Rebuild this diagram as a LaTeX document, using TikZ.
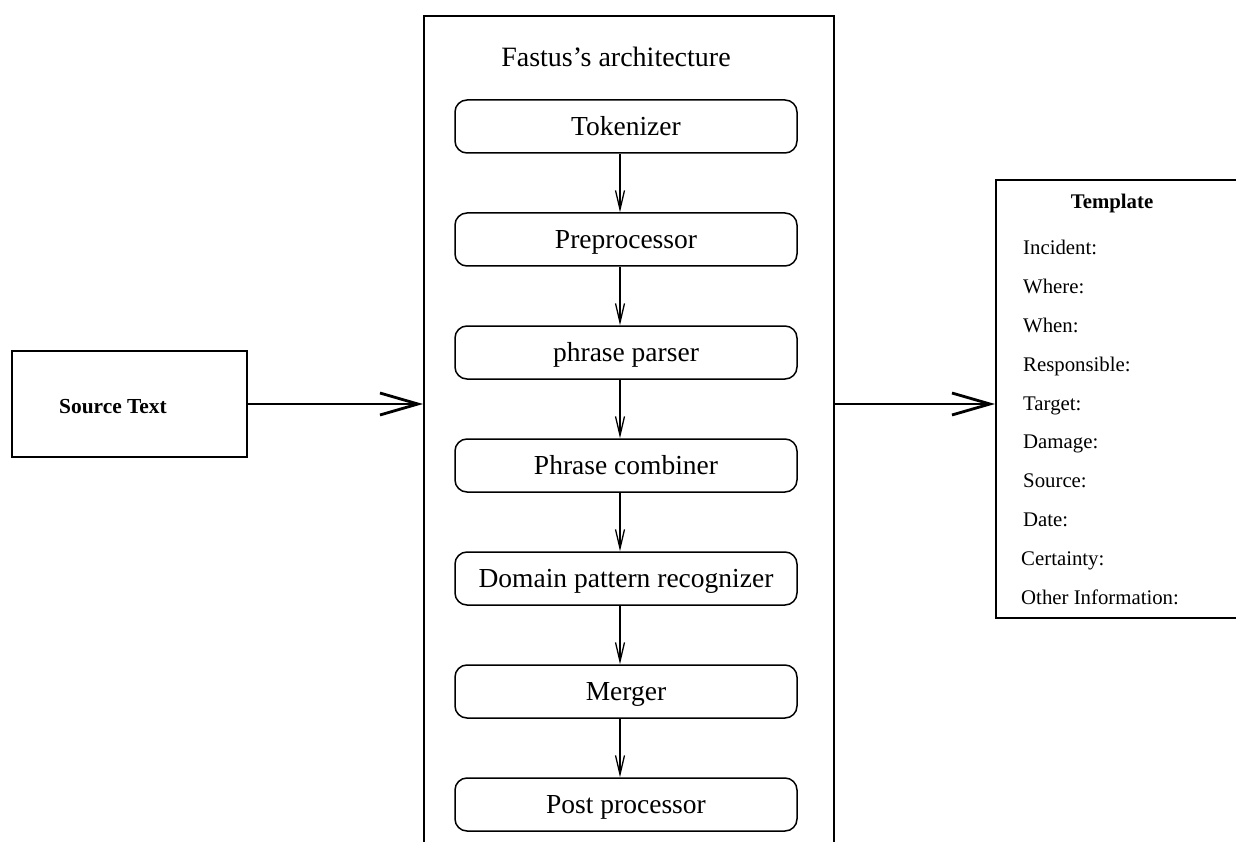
\documentclass[tikz,border=0pt]{standalone}
\usepackage{fontspec}
\setmainfont{Liberation Serif}
\usetikzlibrary{arrows.meta}

\tikzset{
  frame/.style={draw, line width=1.6pt, inner sep=0pt},
  stage/.style={draw, line width=1.5pt, rounded corners=12pt,
    minimum width=342pt, minimum height=53pt, inner sep=0pt,
    font=\fontsize{27.5}{30}\selectfont, text height=18.2pt, text depth=0pt},
  flow/.style={line width=1.3pt, -{Straight Barb[length=19pt,width=9pt]}},
  bigflow/.style={line width=2.8pt, -{Straight Barb[length=38pt,width=22pt]}},
  field/.style={anchor=west, inner sep=0pt,
    font=\fontsize{20.8}{23}\selectfont, text height=13.8pt, text depth=0pt},
  heading/.style={inner sep=0pt, font=\bfseries\fontsize{20.8}{23}\selectfont,
    text height=13.8pt, text depth=0pt},
}

\begin{document}
\begin{tikzpicture}[x=1pt,y=-1pt]
\useasboundingbox (0,0) rectangle (1236,842);
\clip (0,0) rectangle (1236,842);

% input document
\node[draw, line width=2pt, minimum width=235pt, minimum height=106pt, inner sep=0pt]
  (src) at (129.5,404) {};
\node[heading, font=\bfseries\fontsize{21.4}{24}\selectfont, text height=14.2pt]
  (srclabel) at (113,406) {Source Text};

% the system frame, running past the lower edge
\node[frame, anchor=north west, minimum width=410pt, minimum height=880pt] (arch) at (423,15) {};
\node[font=\fontsize{28}{30}\selectfont, anchor=base, inner sep=0pt] (title) at (616,67)
  {Fastus’s architecture};

% processing stages
\node[stage] (tok)   at (626,126.5) {Tokenizer};
\node[stage] (pre)   at (626,239.5) {Preprocessor};
\node[stage] (pp)    at (626,352.5) {phrase parser};
\node[stage] (pc)    at (626,465.5) {Phrase combiner};
\node[stage] (dom)   at (626,578.5) {Domain pattern recognizer};
\node[stage] (mrg)   at (626,691.5) {Merger};
\node[stage] (post)  at (626,804.5) {Post processor};

\coordinate (ax) at (620,0);
\draw[flow] (tok.south -| ax) -- (pre.north -| ax);
\draw[flow] (pre.south -| ax) -- (pp.north -| ax);
\draw[flow] (pp.south -| ax)  -- (pc.north -| ax);
\draw[flow] (pc.south -| ax)  -- (dom.north -| ax);
\draw[flow] (dom.south -| ax) -- (mrg.north -| ax);
\draw[flow] (mrg.south -| ax) -- (post.north -| ax);

% output template, running past the right edge
\node[frame, anchor=north west, minimum width=300pt, minimum height=438pt] (tpl) at (995,179) {};
\node[heading] (tplhead) at (1112,202) {Template};
\node[field] (f1)  at (1023,248.0) {Incident:};
\node[field] (f2)  at (1023,286.8) {Where:};
\node[field] (f3)  at (1023,325.6) {When:};
\node[field] (f4)  at (1023,364.4) {Responsible:};
\node[field] (f5)  at (1023,403.2) {Target:};
\node[field] (f6)  at (1023,442.0) {Damage:};
\node[field] (f7)  at (1023,480.8) {Source:};
\node[field] (f8)  at (1023,519.6) {Date:};
\node[field] (f9)  at (1021,558.4) {Certainty:};
\node[field] (f10) at (1021,597.2) {Other Information:};

% data flow through the system
\draw[bigflow] (src.east) -- (src.east -| arch.west);
\draw[bigflow] (src.east -| arch.east) -- (src.east -| tpl.west);
\end{tikzpicture}
\end{document}
